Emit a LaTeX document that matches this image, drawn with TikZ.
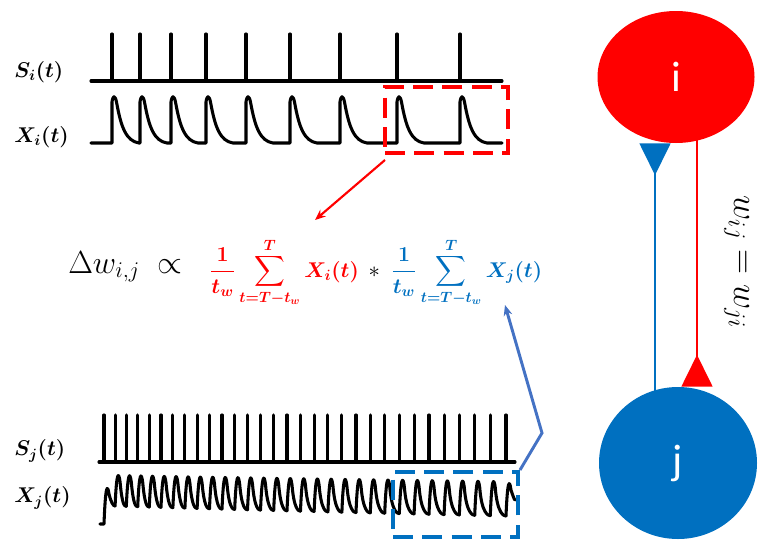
\RequirePackage{fix-cm}
\documentclass[tikz,border=0pt]{standalone}
\usepackage{amsmath,amssymb}
\usepackage{fontspec}
\newfontfamily\calibri{Carlito}
\usepackage{tikz}
\usetikzlibrary{positioning,arrows.meta,calc,shapes.geometric}
\definecolor{eqred}{RGB}{255,0,0}
\definecolor{eqblue}{RGB}{0,112,192}
\definecolor{arrowblue}{RGB}{68,114,196}
\pgfdeclarelayer{background}
\pgfsetlayers{background,main}

\begin{document}
\begin{tikzpicture}[x=0.75pt, y=-0.75pt, >=Stealth]
  % Styles
  \tikzset{
    siglabel/.style={anchor=west, inner sep=0pt, font=\fontsize{16}{19}\selectfont\boldmath},
    signal/.style={line width=2.3pt, line join=round, line cap=round},
    winbox/.style={draw, line width=3pt, dash pattern=on 15pt off 7pt, inner sep=0pt},
    eqpart/.style={inner sep=0pt, anchor=base west, font=\fontsize{24}{28}\selectfont},
    eqbold/.style={inner sep=0pt, anchor=base west, font=\fontsize{16}{19}\selectfont\boldmath},
    neuron/.style={ellipse, inner sep=0pt, text=white, font=\calibri\fontsize{32}{38}\selectfont},
    synapse/.style={line width=2.2pt, -{Triangle[reversed, length=24pt, width=23pt]}},
    pointer/.style={line width=1.6pt, -{Stealth[length=8pt, width=6.5pt]}}
  }
  \useasboundingbox (0,0) rectangle (760,543);

  % Presynaptic trains
  \node[siglabel] (si) at (14,72) {$S_i(t)$};
  \node[siglabel] (xi) at (14,137) {$X_i(t)$};
  \draw[signal] (91,81) -- (502,81);
  \foreach \s in {112,140,171,206,246,290,340,397,460}
    \draw[signal] (\s,81) -- (\s,34);
  \draw[signal] (91,143) \foreach \s in {112,140,171,206,246,290,340,397,460} {
      -- (\s,143) -- (\s,102) .. controls (\s+1,95) and (\s+3,95) .. (\s+4.5,102)
      .. controls (\s+9,127) and (\s+14,141) .. (\s+27,143) } -- (502,143);
  \node[winbox, eqred, minimum width=92.25pt, minimum height=49.5pt] (wini) at (446.5,120) {};

  % Postsynaptic trains
  \node[siglabel] (sj) at (14,451) {$S_j(t)$};
  \node[siglabel] (xj) at (14,498) {$X_j(t)$};
  \draw[signal] (99,462) -- (515,462);
  \foreach \k in {0,...,30} {
    \pgfmathsetmacro{\xs}{104+11*\k+0.08*\k*\k}
    \draw[signal] (\xs,462) -- (\xs,415);
  }
  \draw[signal] (100,524) -- (104,524) .. controls (105.5,484) and (107.5,484) .. (109,494)
    .. controls (111,502) and (113,506) .. (115.08,506);
  \foreach \k in {1,...,29} {
    \pgfmathsetmacro{\xcur}{104+11*\k+0.08*\k*\k}
    \pgfmathsetmacro{\xnext}{104+11*(\k+1)+0.08*(\k+1)*(\k+1)}
    \pgfmathsetmacro{\yfrom}{506+10*(\k-1)/29}
    \pgfmathsetmacro{\ypk}{477+6*(\k-1)/29}
    \pgfmathsetmacro{\ylow}{506+10*\k/29}
    \draw[signal] (\xcur,\yfrom) .. controls ({\xcur+1.5},{\ypk-6}) and ({\xcur+3.5},{\ypk-6}) .. ({\xcur+5},{\ypk+5})
      .. controls ({\xcur+7},{\ylow-2}) and ({\xnext-2},\ylow) .. (\xnext,\ylow);
  }
  \draw[signal] (506,516) .. controls (507.5,479) and (509.5,479) .. (511,490)
    .. controls (513,496) and (514,499) .. (515,500);
  \node[winbox, eqblue, minimum width=93.75pt, minimum height=48.75pt] (winj) at (455.5,504.5) {};

  % Learning rule
  \node[eqpart] (dw) at (68,273) {$\Delta w_{i,j} \;\propto$};
  \node[eqbold, text=eqred, xshift=20pt, yshift=-3pt] (termi) at (dw.base east)
    {$\dfrac{1}{t_w}\displaystyle\sum_{t=T-t_w}^{T} X_i(t)$};
  \node[eqpart, font=\fontsize{17}{20}\selectfont, xshift=7pt] (star) at (termi.base east) {$*$};
  \node[eqbold, text=eqblue, xshift=8pt] (termj) at (star.base east)
    {$\dfrac{1}{t_w}\displaystyle\sum_{t=T-t_w}^{T} X_j(t)$};
  \coordinate (redtip) at (315,220);
  \coordinate (bend) at (542,433);
  \coordinate (bluetip) at (505,305);
  \draw[pointer, eqred] ([xshift=1.5pt, yshift=-3.75pt]wini.south west) -- (redtip);
  \draw[pointer, arrowblue, line width=2.2pt] (winj.north east) -- (bend) -- (bluetip);

  % Neurons
  \node[neuron, fill=eqred, minimum width=117.75pt, minimum height=99pt] (ni) at (676,77) {i};
  \node[neuron, fill=eqblue, minimum width=118.5pt, minimum height=114pt] (nj) at (678,463) {j};
  \coordinate (bx) at (655,0);
  \coordinate (rx) at (697,0);
  \begin{pgfonlayer}{background}
    \draw[synapse, eqblue] (nj.center -| bx) -- (ni.south -| bx);
    \draw[synapse, eqred] (ni.center -| rx) -- (nj.north -| rx);
  \end{pgfonlayer}
  \node[rotate=-90, anchor=base, font=\fontsize{26}{31}\selectfont] (wsym) at (734,262) {$w_{ij} = w_{ji}$};
\end{tikzpicture}
\end{document}
